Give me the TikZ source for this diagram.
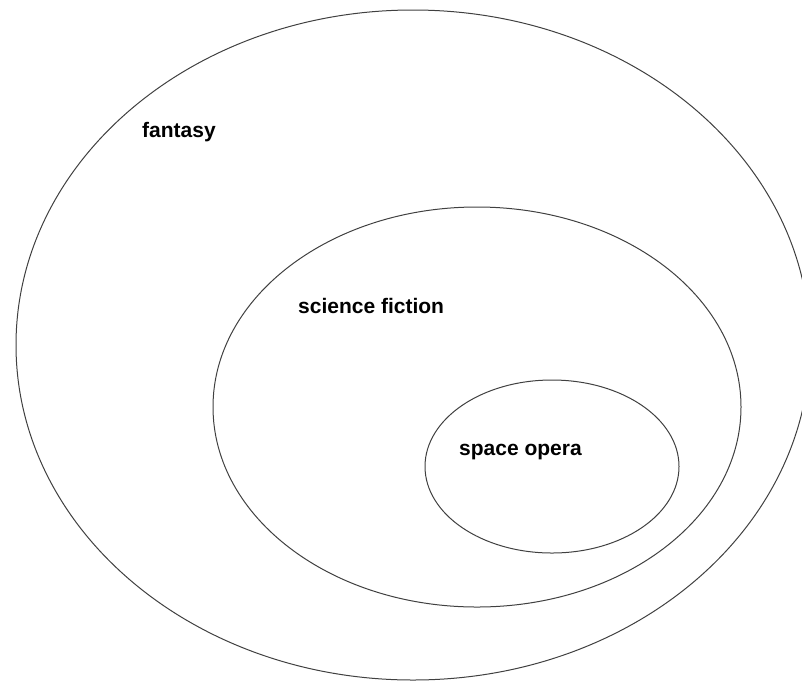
\documentclass[tikz,border=0pt]{standalone}
\usepackage{fontspec}
\setmainfont{Liberation Sans}
\usetikzlibrary{shapes.geometric, positioning}
\tikzset{
    x=1pt, y=-1pt,
    % Sets
    genre/.style={ellipse, draw=black!75, line width=1pt, inner sep=0pt},
    % Labels
    lbl/.style={font=\fontsize{21}{25}\selectfont\bfseries, inner sep=0pt, anchor=base west}
}
\begin{document}
\begin{tikzpicture}

\useasboundingbox (0,0) rectangle (802,681);

\node[genre, minimum width=794pt, minimum height=670pt] (fantasy) at (413,345) {};
\node[genre, minimum width=528pt, minimum height=400pt] (scifi) at (477,407) {};
\node[genre, minimum width=254pt, minimum height=173pt] (opera) at (552,466.5) {};

\node[lbl] (fantasyLbl) at (142,137) {fantasy};
\node[lbl] (scifiLbl) at (298,313) {science fiction};
\node[lbl] (operaLbl) at (459,455) {space opera};

\end{tikzpicture}
\end{document}
